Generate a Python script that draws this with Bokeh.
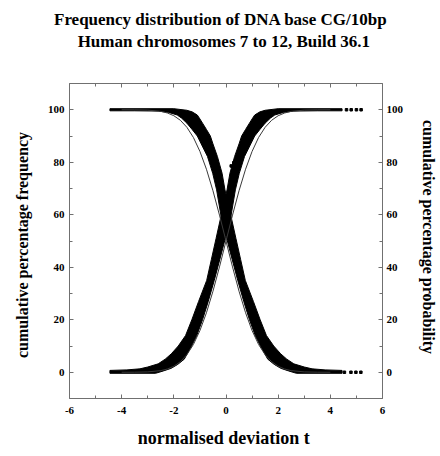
from bokeh.plotting import figure
from bokeh.models import LinearAxis, FixedTicker, Range1d, Title
from bokeh.embed import file_html
from bokeh.resources import INLINE

title_lines = ["Frequency distribution of DNA base CG/10bp",
               "Human chromosomes 7 to 12,  Build 36.1"]
x_label = "normalised deviation  t"
y_label_left = "cumulative  percentage  frequency"
y_label_right = "cumulative  percentage  probability"

x_ticks = [-6, -4, -2, 0, 2, 4, 6]
x_tick_labels = ["-6", "-4", "-2", "0", "2", "4", "6"]
x_minor = [-5, -3, -1, 1, 3, 5]
y_ticks = [0, 20, 40, 60, 80, 100]
y_tick_labels = ["0", "20", "40", "60", "80", "100"]
y_minor = [-10, 10, 30, 50, 70, 90, 110]

# ascending cumulative data band (upper-left edge, then lower-right edge)
asc_upper_t = [-4.45, -4.45, -3.8, -3.3, -3.0, -2.6, -2.33, -2.1, -1.83, -1.55, -1.31, -1.05,
               -0.74, -0.56, -0.38, -0.19, 0.04, 0.15, 0.33, 0.5, 0.6, 0.75, 0.9, 1.0, 1.1,
               1.3, 1.5, 2.0, 4.45]
asc_upper_v = [-0.4, 0.7, 0.9, 1.3, 2.0, 3.2, 5.0, 7.0, 10.0, 14.0, 20.0, 27.0,
               35.0, 43.0, 51.0, 59.5, 69.5, 75.8, 82.2, 87.0, 90.0, 92.5, 94.9, 96.5, 98.0,
               99.2, 99.8, 100.4, 100.4]
asc_lower_t = [4.45, 3.5, 2.6, 2.2, 1.87, 1.7, 1.5, 1.3, 1.1, 0.95, 0.71, 0.51, 0.36, 0.19,
               -0.13, -0.45, -0.68, -0.9, -1.12, -1.32, -1.6, -1.85, -2.1, -2.4, -2.7]
asc_lower_v = [99.6, 99.6, 99.5, 99.0, 98.0, 96.8, 94.9, 92.5, 90.0, 87.0, 82.2, 75.8, 69.5, 59.5,
               47.0, 35.0, 27.0, 20.0, 14.0, 10.0, 5.0, 3.0, 1.5, 0.5, -0.4]

# descending cumulative data band
desc_upper_t = [4.45, 4.45, 3.8, 3.3, 3.0, 2.6, 2.33, 2.1, 1.83, 1.55, 1.31, 1.05,
                0.74, 0.56, 0.38, 0.19, -0.04, -0.15, -0.33, -0.5, -0.6, -0.75, -0.9, -1.0, -1.1,
                -1.3, -1.5, -2.0, -4.45]
desc_upper_v = [-0.4, 0.7, 0.9, 1.3, 2.0, 3.2, 5.0, 7.0, 10.0, 14.0, 20.0, 27.0,
                35.0, 43.0, 51.0, 59.5, 69.5, 75.8, 82.2, 87.0, 90.0, 92.5, 94.9, 96.5, 98.0,
                99.2, 99.8, 100.4, 100.4]
desc_lower_t = [-4.45, -3.5, -2.6, -2.2, -1.87, -1.7, -1.5, -1.3, -1.1, -0.95, -0.71, -0.51, -0.36,
                -0.19, 0.13, 0.45, 0.68, 0.9, 1.12, 1.32, 1.6, 1.85, 2.1, 2.4, 2.7]
desc_lower_v = [99.6, 99.6, 99.5, 99.0, 98.0, 96.8, 94.9, 92.5, 90.0, 87.0, 82.2, 75.8, 69.5,
                59.5, 47.0, 35.0, 27.0, 20.0, 14.0, 10.0, 5.0, 3.0, 1.5, 0.5, -0.4]

# sparse isolated points
asc_tail_t = [4.62, 4.8, 5.0, 5.18]
asc_tail_v = [100.0, 100.0, 100.0, 100.0]
desc_tail_t = [4.54, 4.79, 4.98, 5.17]
desc_tail_v = [0.0, 0.0, 0.0, 0.0]
stray_t = [-0.85, -0.78, 0.2, 0.3]
stray_v = [90.5, 89.2, 78.6, 79.8]

# normal probability curves
norm_t = [-4.0, -3.5, -3.0, -2.5, -2.25, -2.0, -1.75, -1.5, -1.25, -1.0, -0.75, -0.5, -0.25, 0.0,
          0.25, 0.5, 0.75, 1.0, 1.25, 1.5, 1.75, 2.0, 2.25, 2.5, 3.0, 3.5, 4.0]
norm_up = [0.003, 0.023, 0.135, 0.621, 1.222, 2.275, 4.006, 6.681, 10.565, 15.866, 22.663, 30.854,
           40.129, 50.0, 59.871, 69.146, 77.337, 84.134, 89.435, 93.319, 95.994, 97.725, 98.778,
           99.379, 99.865, 99.977, 99.997]
norm_down = [99.997, 99.977, 99.865, 99.379, 98.778, 97.725, 95.994, 93.319, 89.435, 84.134, 77.337,
             69.146, 59.871, 50.0, 40.129, 30.854, 22.663, 15.866, 10.565, 6.681, 4.006, 2.275,
             1.222, 0.621, 0.135, 0.023, 0.003]

SERIF = "Liberation Serif"

p = figure(width=440, height=456, x_range=Range1d(-6, 6), y_range=Range1d(-10, 110),
           output_backend="svg", toolbar_location=None, title=None,
           min_border_left=69, min_border_right=56, min_border_top=83, min_border_bottom=58)
p.outline_line_color = None
p.xgrid.visible = False
p.ygrid.visible = False
p.background_fill_color = "white"
p.border_fill_color = "white"

p.patch(asc_upper_t + asc_lower_t, asc_upper_v + asc_lower_v, fill_color="black", line_color="black", line_width=1)
p.patch(desc_upper_t + desc_lower_t, desc_upper_v + desc_lower_v, fill_color="black", line_color="black", line_width=1)
p.line(norm_t, norm_up, line_color="#3a3a3a", line_width=1)
p.line(norm_t, norm_down, line_color="#3a3a3a", line_width=1)
p.scatter(asc_tail_t + desc_tail_t + stray_t, asc_tail_v + desc_tail_v + stray_v,
          marker="square", size=2.5, color="black")

xt = FixedTicker(ticks=x_ticks, minor_ticks=x_minor)
yt = FixedTicker(ticks=y_ticks, minor_ticks=y_minor)


def style(ax):
    ax.axis_line_color = "#707070"
    ax.major_tick_line_color = "#707070"
    ax.minor_tick_line_color = "#707070"
    ax.major_tick_in = 4
    ax.major_tick_out = 0
    ax.minor_tick_in = 3
    ax.minor_tick_out = 0
    ax.major_label_text_font = SERIF
    ax.major_label_text_font_style = "bold"
    ax.major_label_text_font_size = "11px"
    ax.major_label_text_color = "black"
    ax.axis_label_text_font = SERIF
    ax.axis_label_text_font_style = "bold"
    ax.axis_label_text_font_size = "16px"
    ax.axis_label_text_color = "black"


bx = p.xaxis[0]
bx.ticker = xt
bx.major_label_overrides = dict(zip(x_ticks, x_tick_labels))
style(bx)
bx.major_label_standoff = 8
bx.axis_label = x_label
bx.axis_label_text_font_size = "18px"
bx.axis_label_standoff = 11

ly = p.yaxis[0]
ly.ticker = yt
ly.major_label_overrides = dict(zip(y_ticks, y_tick_labels))
style(ly)
ly.major_label_standoff = 5
ly.axis_label = y_label_left
ly.axis_label_standoff = 14

ry = LinearAxis(ticker=yt, major_label_overrides=dict(zip(y_ticks, y_tick_labels)))
style(ry)
ry.major_label_standoff = 4
ry.axis_label = y_label_right
ry.axis_label_standoff = 14
p.add_layout(ry, "right")

# top axis: frame edge with inward ticks; its label carries the second title line
tx = LinearAxis(ticker=xt, major_label_overrides={k: "" for k in x_ticks})
style(tx)
tx.major_label_text_font_size = "0px"
tx.major_label_standoff = 0
tx.axis_label = title_lines[1]
tx.axis_label_text_font_size = "17px"
tx.axis_label_standoff = 33
p.add_layout(tx, "above")

p.add_layout(Title(text=title_lines[0], align="left", offset=-15.5, standoff=0,
                   text_font=SERIF, text_font_style="bold", text_font_size="17px",
                   text_color="black"), "above")

open("out.html", "w").write(file_html(p, INLINE))
